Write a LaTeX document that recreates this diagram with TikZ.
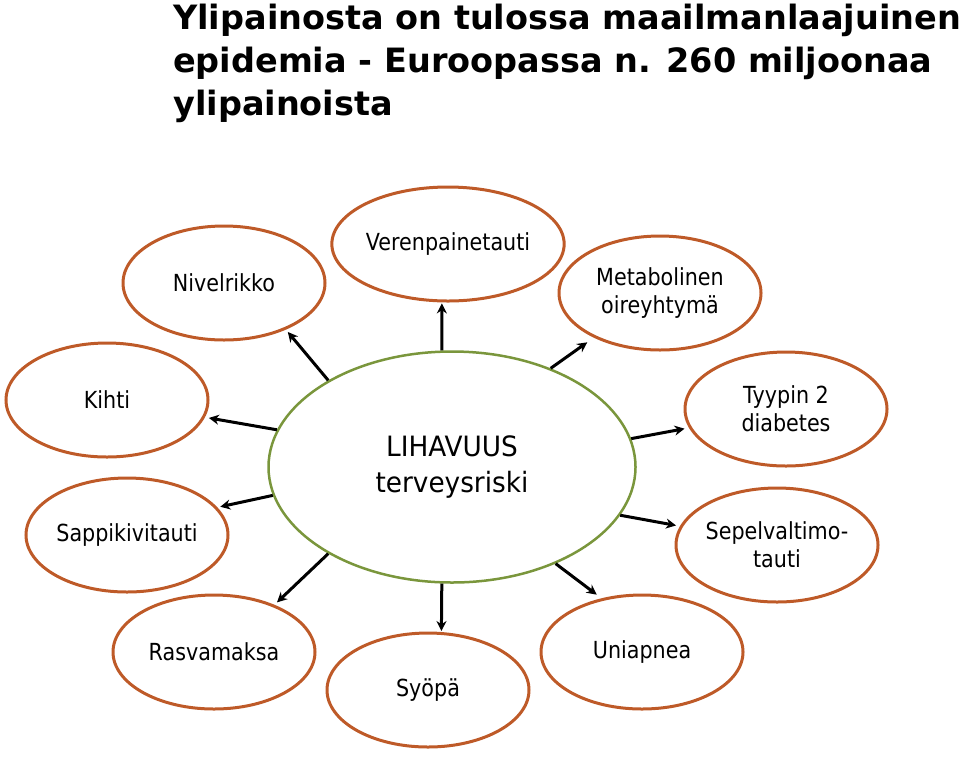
\documentclass[tikz,border=0pt]{standalone}
\usepackage{fontspec}
\setmainfont{DejaVu Sans}
\newfontfamily\labelfont[FakeStretch=0.88]{DejaVu Sans}
\newfontfamily\midfont[FakeStretch=0.94]{DejaVu Sans}
\usepackage{tikz}
\usetikzlibrary{arrows.meta, shapes.geometric, positioning}
\definecolor{rim}{RGB}{190,90,40}
\definecolor{leaf}{RGB}{122,150,60}

\begin{document}
\begin{tikzpicture}[x=1pt, y=-1pt]
    \tikzstyle{sick}=[ellipse, draw=rim, line width=3pt, minimum width=202pt, minimum height=114pt, inner sep=0pt, align=center, font=\labelfont\fontsize{23.5}{28}\selectfont];
    \tikzstyle{core}=[ellipse, draw=leaf, line width=2.5pt, minimum width=367pt, minimum height=231pt, inner sep=0pt, align=center, font=\midfont\fontsize{28}{36}\selectfont];
    \tikzstyle{arr}=[line width=3pt, -{Stealth[length=10pt, width=10pt]}];

    \useasboundingbox (0,0) rectangle (960,756);

    % otsikko
    \node[anchor=north west, inner sep=0pt, align=left, font=\bfseries\fontsize{33.5}{43}\selectfont] (title) at (173,4)
        {Ylipainosta on tulossa maailmanlaajuinen\\epidemia - Euroopassa n. 260 miljoonaa\\ylipainoista};

    % keskus
    \node[core] (lihavuus) at (452,467) {LIHAVUUS\\terveysriski};

    % sairaudet
    \node[sick] (nivel) at (224,283) {Nivelrikko};
    \node[sick] (veren) at (448,244) {Verenpainetauti};
    \node[sick] (meta) at (660,293) {Metabolinen\\oireyhtymä};
    \node[sick] (tyyppi) at (786,409) {Tyypin 2\\diabetes};
    \node[sick] (sepel) at (777,545) {Sepelvaltimo-\\tauti};
    \node[sick] (uni) at (642,652) {Uniapnea};
    \node[sick] (syopa) at (428,690) {Syöpä};
    \node[sick] (rasva) at (214,652) {Rasvamaksa};
    \node[sick] (sappi) at (127,535) {Sappikivitauti};
    \node[sick] (kihti) at (107,400) {Kihti};

    \foreach \n/\a/\b/\s in {nivel/145/323/3, veren/95/264/1, meta/45/214/8, tyyppi/9/191/4.5, sepel/344/169/4,
                             uni/317/127/6, syopa/265/77/1, rasva/215/38/3.5, sappi/189/17/3, kihti/168/350/4} {
        \draw[arr, shorten >=\s pt] (lihavuus.\a) -- (\n.\b);
    }
\end{tikzpicture}
\end{document}
